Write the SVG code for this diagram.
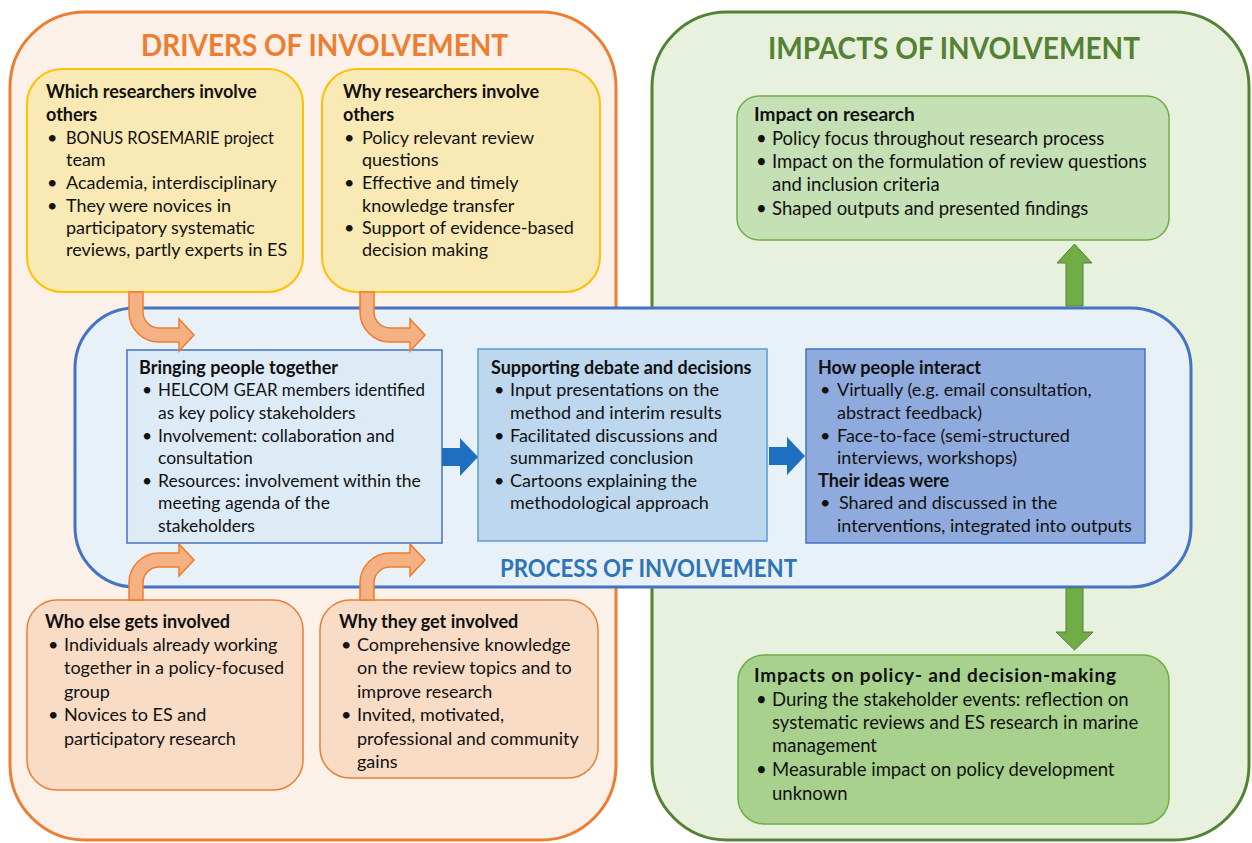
<svg xmlns="http://www.w3.org/2000/svg" width="1252" height="843" viewBox="0 0 1252 843">
<style>
text{font-family:Lato,"Liberation Sans",sans-serif;font-size:18px;fill:#111}
.b{font-weight:bold}
.s{font-size:17.5px}
.g{font-size:18.5px}
.gb{font-size:19px;font-weight:bold}
.h{font-weight:bold;font-size:30px}
.cont-o{fill:#FBF1E8;stroke:#ED7D31;stroke-width:3}
.cont-g{fill:#E8F1DE;stroke:#548235;stroke-width:3}
.yel{fill:#F9E9B4;stroke:#FFC000;stroke-width:2}
.pch{fill:#F8DCC6;stroke:#ED7D31;stroke-width:1.5}
.gr1{fill:#C5E0B4;stroke:#70AD47;stroke-width:1.5}
.gr2{fill:#A9D18E;stroke:#70AD47;stroke-width:1.5}
.proc{fill:#E8F0F8;stroke:#4472C4;stroke-width:3}
.pb1{fill:#DDEBF7;stroke:#4472C4;stroke-width:1.5}
.pb2{fill:#BDD7EE;stroke:#5B9BD5;stroke-width:1.5}
.pb3{fill:#8FAADC;stroke:#4472C4;stroke-width:1.5}
.oa{fill:#F4B183;stroke:#ED7D31;stroke-width:1.5}
.ba{fill:#1F6FC0}
.ga{fill:#70AD47;stroke:#548235;stroke-width:1}
</style>
<defs>
<path id="bendDown" d="M129,292 H143 V312 A16,16 0 0 0 159,328 H179 V319 L194,335 L179,351 V342 H159 A30,30 0 0 1 129,312 Z"/>
<path id="bendUp" d="M129,600 V583 A30,30 0 0 1 159,553 H179 V544 L194,560 L179,576 V567 H159 A16,16 0 0 0 143,583 V600 Z"/>
<path id="blueArrow" d="M442,448 H460 V438 L478,457 L460,476 V466 H442 Z"/>
</defs>

<g id="drivers">
<rect class="cont-o" x="10" y="12" width="606" height="828" rx="75"/>
<text class="h" x="141" y="56" style="fill:#ED7D31" textLength="367" lengthAdjust="spacingAndGlyphs">DRIVERS OF INVOLVEMENT</text>
</g>

<g id="impacts">
<rect class="cont-g" x="652" y="12" width="597" height="828" rx="75"/>
<text class="h" x="768" y="59" style="fill:#548235" textLength="372" lengthAdjust="spacingAndGlyphs">IMPACTS OF INVOLVEMENT</text>
</g>

<g id="which-researchers">
<rect class="yel" x="27" y="69" width="276" height="223" rx="35"/>
<text class="b" x="46" y="98">Which researchers involve</text>
<text class="b" x="46" y="121">others</text>
<text x="47" y="144">•</text><text x="66" y="144" textLength="208" lengthAdjust="spacingAndGlyphs">BONUS ROSEMARIE project</text>
<text x="66" y="166">team</text>
<text x="47" y="189">•</text><text x="66" y="189">Academia, interdisciplinary</text>
<text x="47" y="212">•</text><text x="66" y="212">They were novices in</text>
<text x="66" y="234">participatory systematic</text>
<text x="66" y="256">reviews, partly experts in ES</text>
</g>

<g id="why-researchers">
<rect class="yel" x="322" y="69" width="278" height="223" rx="35"/>
<text class="b" x="343" y="98">Why researchers involve</text>
<text class="b" x="343" y="121">others</text>
<text x="344" y="144">•</text><text x="362" y="144">Policy relevant review</text>
<text x="362" y="166">questions</text>
<text x="344" y="189">•</text><text x="362" y="189">Effective and timely</text>
<text x="362" y="212">knowledge transfer</text>
<text x="344" y="234">•</text><text x="362" y="234">Support of evidence-based</text>
<text x="362" y="256">decision making</text>
</g>

<g id="impact-research">
<rect class="gr1" x="737" y="96" width="432" height="144" rx="22"/>
<text class="gb" x="754" y="121">Impact on research</text>
<text class="g" x="756" y="145">•</text><text class="g" x="772" y="145">Policy focus throughout research process</text>
<text class="g" x="756" y="168">•</text><text class="g" x="772" y="168">Impact on the formulation of review questions</text>
<text class="g" x="772" y="191">and inclusion criteria</text>
<text class="g" x="756" y="215">•</text><text class="g" x="772" y="215">Shaped outputs and presented findings</text>
</g>

<g id="process">
<rect class="proc" x="75" y="308" width="1116" height="279" rx="60"/>
<text class="b" x="500" y="577" style="fill:#2E75B6;font-size:24px" textLength="297" lengthAdjust="spacingAndGlyphs">PROCESS OF INVOLVEMENT</text>
</g>

<g id="bringing-people">
<rect class="pb1" x="127" y="350" width="315" height="193"/>
<text class="b" x="139" y="374">Bringing people together</text>
<text class="s" x="142" y="396">•</text><text class="s" x="158" y="396" textLength="267" lengthAdjust="spacingAndGlyphs">HELCOM GEAR members identified</text>
<text class="s" x="158" y="419">as key policy stakeholders</text>
<text class="s" x="142" y="442">•</text><text class="s" x="158" y="442">Involvement: collaboration and</text>
<text class="s" x="158" y="464">consultation</text>
<text class="s" x="142" y="487">•</text><text class="s" x="158" y="487">Resources: involvement within the</text>
<text class="s" x="158" y="509">meeting agenda of the</text>
<text class="s" x="158" y="532">stakeholders</text>
</g>

<g id="supporting-debate">
<rect class="pb2" x="478" y="349" width="289" height="192"/>
<text class="b" x="491" y="374">Supporting debate and decisions</text>
<text x="494" y="396">•</text><text x="510" y="396">Input presentations on the</text>
<text x="510" y="419">method and interim results</text>
<text x="494" y="442">•</text><text x="510" y="442">Facilitated discussions and</text>
<text x="510" y="464">summarized conclusion</text>
<text x="494" y="487">•</text><text x="510" y="487">Cartoons explaining the</text>
<text x="510" y="509">methodological approach</text>
</g>

<g id="how-people-interact">
<rect class="pb3" x="806" y="349" width="339" height="194"/>
<text class="b" x="818" y="374">How people interact</text>
<text x="820" y="396">•</text><text x="837" y="396">Virtually (e.g. email consultation,</text>
<text x="837" y="419">abstract feedback)</text>
<text x="820" y="442">•</text><text x="837" y="442">Face-to-face (semi-structured</text>
<text x="837" y="464">interviews, workshops)</text>
<text class="b" x="818" y="487">Their ideas were</text>
<text x="820" y="509">•</text><text x="839" y="509">Shared and discussed in the</text>
<text x="837" y="532">interventions, integrated into outputs</text>
</g>

<g id="who-else">
<rect class="pch" x="27" y="600" width="276" height="190" rx="30"/>
<text class="b" x="45" y="628">Who else gets involved</text>
<text x="48" y="651">•</text><text x="64" y="651">Individuals already working</text>
<text x="64" y="674">together in a policy-focused</text>
<text x="64" y="698">group</text>
<text x="48" y="721">•</text><text x="64" y="721">Novices to ES and</text>
<text x="64" y="745">participatory research</text>
</g>

<g id="why-they">
<rect class="pch" x="320" y="600" width="278" height="178" rx="30"/>
<text class="b" x="339" y="628">Why they get involved</text>
<text x="341" y="651">•</text><text x="357" y="651">Comprehensive knowledge</text>
<text x="357" y="674">on the review topics and to</text>
<text x="357" y="698">improve research</text>
<text x="341" y="721">•</text><text x="357" y="721">Invited, motivated,</text>
<text x="357" y="745">professional and community</text>
<text x="357" y="768">gains</text>
</g>

<g id="impact-policy">
<rect class="gr2" x="738" y="655" width="431" height="169" rx="26"/>
<text class="gb" x="754" y="682" textLength="362" lengthAdjust="spacing">Impacts on policy- and decision-making</text>
<text class="g" x="756" y="706">•</text><text class="g" x="772" y="706">During the stakeholder events: reflection on</text>
<text class="g" x="772" y="729">systematic reviews and ES research in marine</text>
<text class="g" x="772" y="752">management</text>
<text class="g" x="756" y="776">•</text><text class="g" x="772" y="776">Measurable impact on policy development</text>
<text class="g" x="772" y="800">unknown</text>
</g>

<g id="connectors">
<use href="#bendDown" class="oa"/>
<use href="#bendDown" class="oa" transform="translate(231,0)"/>
<use href="#bendUp" class="oa"/>
<use href="#bendUp" class="oa" transform="translate(231,0)"/>
<use href="#blueArrow" class="ba"/>
<use href="#blueArrow" class="ba" transform="translate(327,-1)"/>
<path class="ga" d="M1066,306 V263 H1057 L1074.5,244 L1092,263 H1083 V306 Z"/>
<path class="ga" d="M1066,588 V632 H1056 L1074.5,650 L1093,632 H1083 V588 Z"/>
</g>
</svg>
